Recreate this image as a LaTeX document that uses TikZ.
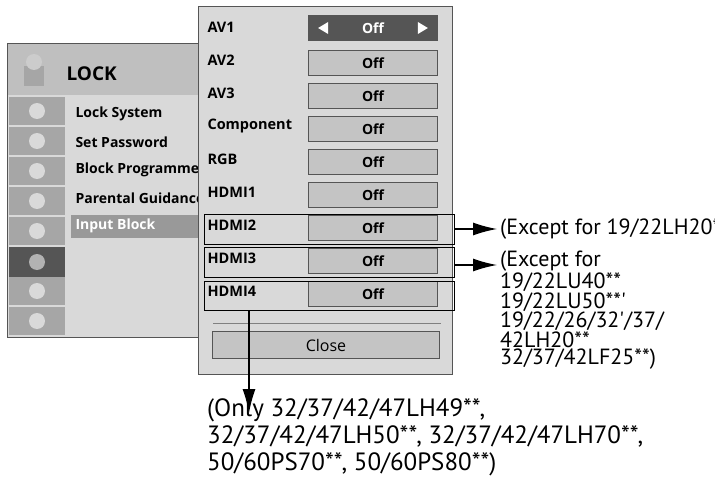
\documentclass[tikz,border=0pt]{standalone}
\usepackage{fontspec}
\setmainfont{Open Sans}
\newfontfamily\notefont{PT Sans}
\usetikzlibrary{arrows.meta}
\definecolor{panelgray}{HTML}{D9D9D9}
\definecolor{headgray}{HTML}{BFBFBF}
\definecolor{icongray}{HTML}{A6A6A6}
\definecolor{boxgray}{HTML}{C4C4C4}
\definecolor{darkgray}{HTML}{555555}
\tikzset{
  offbox/.style={draw=darkgray, fill=boxgray, line width=0.8pt, minimum width=129pt, minimum height=25pt, font=\bfseries\fontsize{14}{16}\selectfont},
  rowlabel/.style={anchor=west, font=\bfseries\fontsize{14.5}{16}\selectfont},
  menulabel/.style={anchor=west, font=\bfseries\fontsize{14}{16}\selectfont},
  frame/.style={draw=black, line width=1pt},
  note/.style={anchor=north west, align=left, inner sep=0pt, font=\notefont\fontsize{22}{16.5}\selectfont},
  pointer/.style={line width=1.3pt, -{Latex[length=24pt,width=13pt]}}
}
\begin{document}
\begin{tikzpicture}[x=1pt,y=-1pt]
    \useasboundingbox (0,0) rectangle (715,484);
    % lock menu
    \fill[panelgray] (7,44) rectangle (200,337);
    \fill[headgray] (7,44) rectangle (200,95);
    \draw[darkgray, line width=1pt] (7,337) -- (7,44) -- (200,44);
    \draw[darkgray, line width=1pt] (7,337) -- (200,337);
    \fill[gray!70] (24,66) rectangle (44,86);
    \fill[gray!40] (34,62) circle [radius=8];
    \node[menulabel, font=\bfseries\fontsize{19}{21}\selectfont] (lock) at (63,74) {LOCK};
    \foreach \i in {0,...,7} {
        \fill[icongray] (9,{97+30*\i}) rectangle (65,{125+30*\i});
        \fill[white!70!gray] (37,{111+30*\i}) circle [radius=8];
    }
    \fill[darkgray] (9,247) rectangle (65,277);
    \fill[gray!60] (37,262) circle [radius=8];
    \fill[gray!80] (71,215) rectangle (200,238);
    \node[menulabel] (m1) at (72,114) {Lock System};
    \node[menulabel] (m2) at (72,142) {Set Password};
    \node[menulabel] (m3) at (72,170) {Block Programme};
    \node[menulabel] (m4) at (72,198) {Parental Guidance};
    \node[menulabel, white] (m5) at (72,226) {Input Block};
    % input block popup
    \draw[darkgray, fill=panelgray, line width=1pt] (198,7) rectangle (452,374);
    \node[offbox, fill=darkgray, text=white] (b1) at (373,28) {Off};
    \fill[white] ([xshift=10pt]b1.west) -- ++(10,-6) -- ++(0,12) -- cycle;
    \fill[white] ([xshift=-10pt]b1.east) -- ++(-10,-6) -- ++(0,12) -- cycle;
    \node[rowlabel] (l1) at (204,27) {AV1};
    \foreach \lab [count=\k from 2] in {AV2,AV3,Component,RGB,HDMI1,HDMI2,HDMI3,HDMI4} {
        \node[rowlabel] (l\k) at (204,{27+33*(\k-1)}) {\lab};
        \node[offbox] (b\k) at (373,{28+33*(\k-1)+2}) {Off};
    }
    \draw[frame] (204,214) rectangle (454,244);
    \draw[frame] (204,247) rectangle (454,277);
    \draw[frame] (204,281) rectangle (454,310);
    \coordinate (h2) at (454,229);
    \coordinate (h3) at (454,265);
    \coordinate (h4) at (249,310);
    \draw[gray] (213,323) -- (441,323);
    \node[offbox, minimum width=227pt, minimum height=27pt, font=\fontsize{16}{18}\selectfont] (close) at (326,345) {Close};
    % notes
    \node[note, anchor=west] (n2) at (500,229) {(Except for 19/22LH20**)};
    \node[note] (n3) at (500,251) {(Except for\\19/22LU40**\\19/22LU50**'\\19/22/26/32'/37/\\42LH20**\\32/37/42LF25**)};
    \node[note, font=\notefont\fontsize{25}{27}\selectfont] (n4) at (207,398) {(Only 32/37/42/47LH49**,\\32/37/42/47LH50**, 32/37/42/47LH70**,\\50/60PS70**, 50/60PS80**)};
    \draw[pointer] (h2) -- ([xshift=-3pt]n2.west);
    \draw[pointer] (h3) -- ([xshift=-3pt]h3 -| n3.west);
    \draw[pointer] (h4) -- ([yshift=-15pt]h4 |- n4.north);
\end{tikzpicture}
\end{document}
